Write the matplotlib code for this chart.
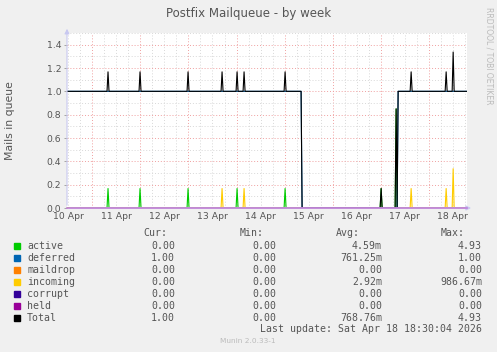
# Munin "Postfix Mailqueue - by week" rebuilt with matplotlib.
# Time axis is in days counted from 10 Apr 00:00; one rrd sample = 30 min.
import numpy as np
import matplotlib
matplotlib.use("Agg")
import matplotlib.pyplot as plt
from matplotlib.patches import Rectangle

W, H = 497, 352
T0, T1 = 0.47, 8.80                       # visible window (days)
STEP = 1 / 48                             # 30 min samples

# --- data -----------------------------------------------------------------
day_labels = ["10 Apr", "11 Apr", "12 Apr", "13 Apr", "14 Apr",
              "15 Apr", "16 Apr", "17 Apr", "18 Apr"]
deferred_off = (5.36, 7.345)              # deferred queue empty between these
active_t = [1.32, 1.99, 2.99, 4.01, 5.01, 7.01, 7.33]
active_v = [0.167, 0.167, 0.167, 0.167, 0.167, 0.167, 0.85]
incoming_t = [3.70, 4.16, 7.64, 8.37, 8.51]
incoming_v = [0.167, 0.167, 0.167, 0.167, 0.337]

names = ["active", "deferred", "maildrop", "incoming", "corrupt", "held", "Total"]
colors = ["#00CC00", "#0066B3", "#FF8000", "#FFCC00", "#330099", "#990099", "#000000"]
cur = ["0.00", "1.00", "0.00", "0.00", "0.00", "0.00", "1.00"]
mins = ["0.00", "0.00", "0.00", "0.00", "0.00", "0.00", "0.00"]
avgs = ["4.59m", "761.25m", "0.00", "2.92m", "0.00", "0.00", "768.76m"]
maxs = ["4.93", "1.00", "0.00", "986.67m", "0.00", "0.00", "4.93"]

# --- build sampled series ---------------------------------------------------
t = np.arange(T0, T1 + STEP / 2, STEP)
deferred = np.where((t >= deferred_off[0]) & (t < deferred_off[1]), 0.0, 1.0)
active = np.zeros_like(t)
for ts, v in zip(active_t, active_v):
    active[np.argmin(abs(t - ts))] = v
incoming = np.zeros_like(t)
for ts, v in zip(incoming_t, incoming_v):
    incoming[np.argmin(abs(t - ts))] = v
zeros = np.zeros_like(t)
total = deferred + active + incoming

# --- figure ------------------------------------------------------------------
fig = plt.figure(figsize=(W / 100, H / 100), dpi=100, facecolor="#F0F0F0")
fx = lambda px: px / W
fy = lambda py: 1 - py / H
ax = fig.add_axes([fx(67), fy(208), 400 / W, 175 / H])
ax.set_facecolor("white")
ax.set_xlim(T0, T1); ax.set_ylim(0, 1.5)

# grid: 6 h minor / 1 day major, 0.1 minor / 0.2 major
dots = (0, (1, 2))
for x in np.arange(np.ceil(T0 * 4) / 4, T1, 0.25):
    major = abs(x - round(x)) < 1e-6
    ax.axvline(x, color="#F0A0A0" if major else "#D8D8D8", lw=0.7, ls=dots, zorder=0)
for y in np.arange(0.1, 1.51, 0.1):
    major = abs(y / 0.2 - round(y / 0.2)) < 1e-6
    ax.axhline(y, color="#F0A0A0" if major else "#D8D8D8", lw=0.7, ls=dots, zorder=0)

lw = 0.8
ax.plot(t, active, color=colors[0], lw=lw, zorder=2)
ax.plot(t, deferred, color=colors[1], lw=lw, zorder=2)
ax.plot(t, incoming, color=colors[3], lw=lw, zorder=2)
ax.plot(t, total, color=colors[6], lw=lw, zorder=3)
ax.plot(t, zeros, color="#C080D8", lw=1.2, zorder=4, clip_on=False)   # maildrop/corrupt/held

# axes look
for s in ax.spines.values():
    s.set_visible(False)
axc = "#C8C8F0"
ax.annotate("", xy=(1.017, 0), xytext=(0, 0), xycoords="axes fraction",
            arrowprops=dict(arrowstyle="-|>", color=axc, lw=0.8, mutation_scale=7))
ax.annotate("", xy=(0, 1.04), xytext=(0, 0), xycoords="axes fraction",
            arrowprops=dict(arrowstyle="-|>", color=axc, lw=0.8, mutation_scale=7))

ax.set_xticks(np.arange(0.5, 9, 1.0))
ax.set_xticklabels(day_labels)
ax.set_yticks(np.arange(0, 1.41, 0.2))
ax.set_yticklabels([f"{v:.1f}" for v in np.arange(0, 1.41, 0.2)])
ax.tick_params(axis="x", length=0, pad=3, labelsize=6.7, labelcolor="#555555")
ax.tick_params(axis="y", length=2, width=0.6, color="#999999", pad=2,
               labelsize=6.7, labelcolor="#555555")

fig.text(fx(248.5), fy(13), "Postfix Mailqueue - by week", ha="center", va="center",
         fontsize=8.5, color="#555555")
fig.text(fx(10.5), fy(121), "Mails in queue", ha="center", va="center", rotation=90,
         fontsize=7.8, color="#555555")
fig.text(fx(488.5), fy(56), "RRDTOOL / TOBI OETIKER", ha="center", va="center",
         rotation=270, fontsize=5.5, color="#BBBBBB")

# legend block (rrdtool style, monospace)
mono = dict(family="DejaVu Sans Mono", fontsize=7.1, color="#555555", va="center")
for x, h in zip([167, 264, 360, 465], ["Cur:", "Min:", "Avg:", "Max:"]):
    fig.text(fx(x), fy(233), h, ha="right", **mono)
for i, n in enumerate(names):
    y = 245.7 + 12 * i
    fig.patches.append(Rectangle((fx(14), fy(y + 3)), 6 / W, 6 / H, color=colors[i],
                                 transform=fig.transFigure, figure=fig))
    fig.text(fx(27), fy(y), n, ha="left", **mono)
    fig.text(fx(175), fy(y), cur[i], ha="right", **mono)
    fig.text(fx(276), fy(y), mins[i], ha="right", **mono)
    fig.text(fx(382), fy(y), avgs[i], ha="right", **mono)
    fig.text(fx(482), fy(y), maxs[i], ha="right", **mono)
fig.text(fx(482), fy(329.5), "Last update: Sat Apr 18 18:30:04 2026", ha="right", **mono)
fig.text(fx(248), fy(341), "Munin 2.0.33-1", ha="center", va="center",
         fontsize=5.3, color="#BBBBBB")

fig.savefig("out.png", dpi=100, facecolor=fig.get_facecolor())
